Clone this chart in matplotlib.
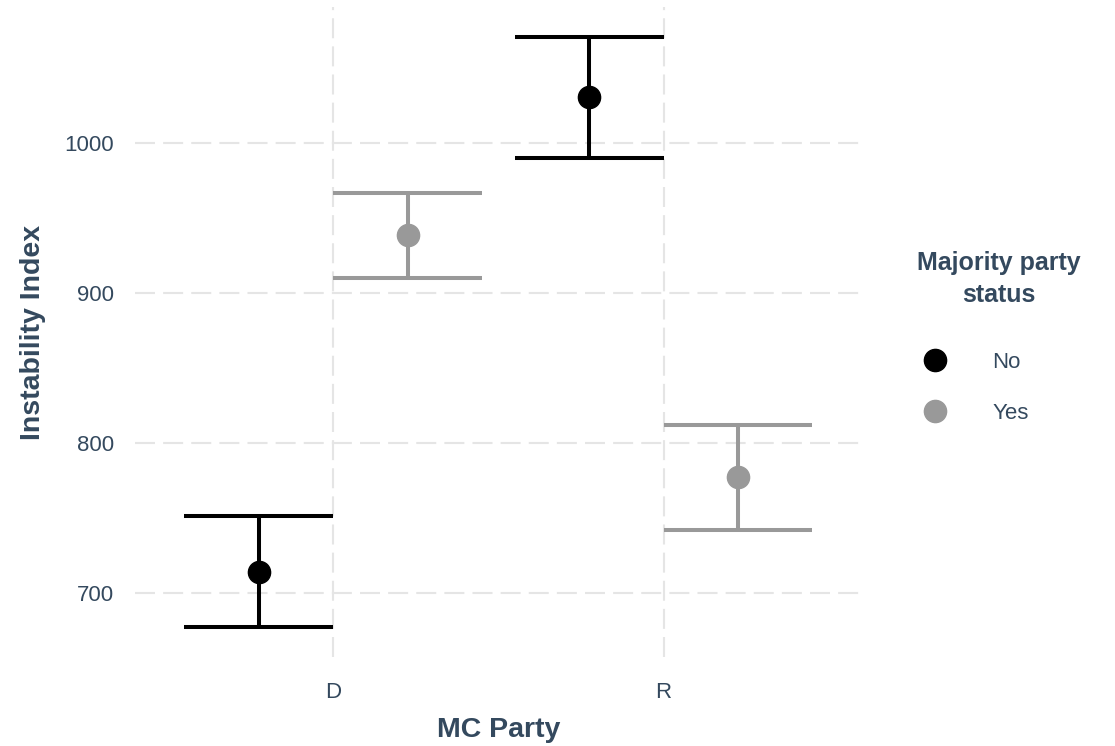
import matplotlib.pyplot as plt
import numpy as np

# Data
parties = ['D', 'R']
statuses = ['No', 'Yes']
colors = {'No': '#000000', 'Yes': '#999999'}

mean_vals = {'No': [714, 1031], 'Yes': [939, 777]}
lower_vals = {'No': [677, 990], 'Yes': [910, 742]}
upper_vals = {'No': [751, 1071], 'Yes': [967, 812]}

y_ticks = [700, 800, 900, 1000]

text_color = '#34495E'
plt.rcParams['font.family'] = ['Liberation Sans', 'DejaVu Sans']

fig = plt.figure(figsize=(11.15, 7.46), dpi=100)
ax = fig.add_axes([0.121, 0.119, 0.652, 0.872])

x = np.arange(1, len(parties) + 1)
dodge = 0.225
cap_half = 0.225
offsets = {'No': -dodge, 'Yes': dodge}

for s in statuses:
    xs = x + offsets[s]
    m = np.array(mean_vals[s])
    lo = np.array(lower_vals[s])
    hi = np.array(upper_vals[s])
    ax.vlines(xs, lo, hi, color=colors[s], linewidth=2.9, zorder=3)
    ax.hlines(lo, xs - cap_half, xs + cap_half, color=colors[s], linewidth=2.9, zorder=3)
    ax.hlines(hi, xs - cap_half, xs + cap_half, color=colors[s], linewidth=2.9, zorder=3)
    ax.plot(xs, m, 'o', color=colors[s], markersize=16, zorder=4,
            label=s, linestyle='none')

ax.set_xlim(0.4, 2.6)
ax.set_ylim(657, 1091)
ax.set_xticks(x)
ax.set_xticklabels(parties)
ax.set_yticks(y_ticks)

ax.grid(True, color='#E5E5E5', linestyle=(0, (9.6, 3.9)), linewidth=1.5, zorder=0)
ax.set_axisbelow(True)
for sp in ax.spines.values():
    sp.set_visible(False)
ax.tick_params(length=0, colors=text_color, labelsize=16)
ax.tick_params(axis='x', pad=18)
ax.tick_params(axis='y', pad=15)

ax.set_xlabel('MC Party', fontsize=20.5, fontweight='bold', color=text_color, labelpad=10)
ax.set_ylabel('Instability Index', fontsize=20.5, fontweight='bold', color=text_color, labelpad=13)

leg = fig.legend(loc='center', bbox_to_anchor=(0.896, 0.548), frameon=False,
                 title='Majority party\nstatus', fontsize=16, labelspacing=1.35,
                 handlelength=1.6, handletextpad=1.77, markerscale=1.0,
                 alignment='left')
leg.get_title().set_fontsize(18)
leg.get_title().set_fontweight('bold')
leg.get_title().set_color(text_color)
leg.get_title().set_multialignment('center')
leg.get_title().set_linespacing(1.45)
leg._legend_box.sep = 32
for t in leg.get_texts():
    t.set_color(text_color)

fig.savefig('out.png', dpi=100)
